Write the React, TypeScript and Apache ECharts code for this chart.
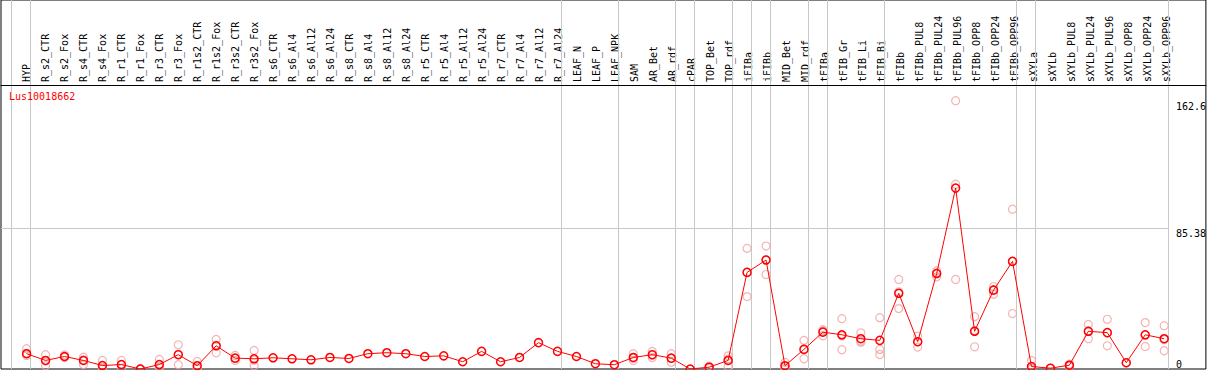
import React, { useEffect, useRef } from "react";
import * as echarts from "echarts";

const geneName = "Lus10018662";

const categories = [
  "HYP", "R_s2_CTR", "R_s2_Fox", "R_s4_CTR", "R_s4_Fox", "R_r1_CTR", "R_r1_Fox", "R_r3_CTR", "R_r3_Fox",
  "R_r1s2_CTR", "R_r1s2_Fox", "R_r3s2_CTR", "R_r3s2_Fox",
  "R_s6_CTR", "R_s6_Al4", "R_s6_Al12", "R_s6_Al24",
  "R_s8_CTR", "R_s8_Al4", "R_s8_Al12", "R_s8_Al24",
  "R_r5_CTR", "R_r5_Al4", "R_r5_Al12", "R_r5_Al24",
  "R_r7_CTR", "R_r7_Al4", "R_r7_Al12", "R_r7_Al24",
  "LEAF_N", "LEAF_P", "LEAF_NPK", "SAM", "AR_Bet", "AR_rdf", "cPAR", "TOP_Bet", "TOP_rdf",
  "iFIBa", "iFIBb", "MID_Bet", "MID_rdf", "tFIBa", "tFIB_Gr", "tFIB_Li", "tFIB_Bi",
  "tFIBb", "tFIBb_PUL8", "tFIBb_PUL24", "tFIBb_PUL96", "tFIBb_OPP8", "tFIBb_OPP24", "tFIBb_OPP96",
  "sXYLa", "sXYLb", "sXYLb_PUL8", "sXYLb_PUL24", "sXYLb_PUL96", "sXYLb_OPP8", "sXYLb_OPP24", "sXYLb_OPP96",
];

const means = [
  9.3, 5.2, 7.6, 5.2, 2.1, 2.7, 0.0, 2.7, 8.7,
  2.0, 14.1, 6.6, 6.2,
  6.8, 6.2, 5.6, 7.0,
  6.4, 9.3, 9.9, 9.3,
  7.6, 8.0, 4.4, 10.7,
  4.4, 7.0, 16.0, 10.7,
  7.6, 3.2, 2.6, 7.0, 8.7, 6.6, 0.0, 1.1, 5.2,
  58.7, 66.2, 2.0, 11.9, 22.4, 20.8, 18.4, 17.4,
  46.0, 16.6, 58.0, 109.9, 22.9, 47.9, 65.4,
  1.5, 0.5, 2.3, 22.9, 22.1, 3.8, 20.8, 18.4,
];

const replicates: number[][] = [
  [12.3, 8.2, 9.5], [8.7, 2.0, 5.0], [8.5, 7.0, 7.4], [7.2, 2.7, 5.6], [5.2, 1.1, 0.2],
  [5.2, 0.3, 2.6], [0.2, 0.0], [5.8, 0.8, 1.5], [14.7, 2.6, 8.8],
  [4.6, 0.3, 1.1], [18.0, 9.9, 14.4], [8.2, 5.2, 6.4], [11.3, 2.0, 5.3],
  [], [], [], [],
  [], [], [], [],
  [], [], [], [],
  [], [], [], [],
  [], [], [], [9.3, 5.2, 6.5], [10.7, 7.0, 8.4], [9.3, 4.1, 6.4], [], [1.7, 0.3, 1.3], [8.0, 1.5, 6.1],
  [73.3, 44.0, 58.8], [74.7, 57.4, 66.5], [4.0, 0.5, 1.5], [17.4, 6.2, 12.1],
  [23.9, 20.2, 23.1], [30.6, 11.7, 20.1], [22.0, 16.3, 17.0], [31.2, 11.9, 8.8],
  [54.4, 36.7, 46.9], [20.0, 13.3, 16.5], [59.6, 56.0, 58.4], [163.0, 54.4, 112.3],
  [31.8, 13.5, 23.4], [50.1, 45.4, 48.2], [97.1, 33.7, 65.4],
  [5.2, 0.2, 0.0], [0.5], [3.0, 1.5, 2.4], [27.1, 18.4, 23.2], [30.2, 14.1, 22.0],
  [3.8], [28.2, 13.7, 20.5], [26.3, 11.1, 17.8],
];

// index of the last category of each group (-1 = before the first)
const groupEnds = [-1, 0, 28, 31, 34, 35, 37, 38, 39, 41, 42, 45, 52, 53, 60];
const yTickLabels = [0, 85.38, 162.6];
const gridValue = 85.38;

export default function App() {
  const ref = useRef<HTMLDivElement>(null);

  useEffect(() => {
    document.body.style.margin = "0";
    const chart = echarts.init(ref.current!, null, { renderer: "svg" });
    const X_MIN = -1.35;
    const X_MAX = 62.2;
    const Y_MAX = 224.2;
    const PLOT_H = 369;
    const STEP = 19; // px per category
    const FIRST_X = 26.7; // px of first category
    const sep = 0.21;
    const mono = "'DejaVu Sans Mono', monospace";

    const repData: number[][] = [];
    replicates.forEach((arr, i) => arr.forEach((v) => repData.push([i, v])));

    const yAxisBase = (vals: number[], va: string) => ({
      type: "value",
      gridIndex: 0,
      min: 0,
      max: Y_MAX,
      position: "right",
      axisLine: { show: false, onZero: false },
      axisTick: { show: false },
      splitLine: { show: false },
      axisLabel: {
        customValues: vals,
        inside: true,
        margin: 30,
        align: "left",
        verticalAlign: va,
        fontSize: 10,
        fontFamily: mono,
        color: "#000",
      },
    });

    const labelLeft = FIRST_X - STEP / 2;
    const labelWidth = STEP * categories.length;

    const option: any = {
      animation: false,
      title: {
        text: geneName,
        left: 9,
        top: 91,
        padding: 0,
        textStyle: { color: "#ff0000", fontSize: 10, fontWeight: "normal", fontFamily: mono },
      },
      grid: [
        { left: 1, right: 1, top: 0, bottom: 1, show: true, borderColor: "#000", borderWidth: 1, backgroundColor: "#fff" },
        { left: labelLeft, width: labelWidth, top: 0, height: 85, show: false },
      ],
      xAxis: [
        {
          type: "value",
          gridIndex: 0,
          min: X_MIN,
          max: X_MAX,
          position: "top",
          offset: -85,
          z: 3,
          axisLine: { show: true, onZero: false, lineStyle: { color: "#000", width: 1 } },
          axisTick: { show: false },
          splitLine: { show: false },
          axisLabel: { show: false },
        },
        {
          // group separators drawn as long ticks
          type: "value",
          gridIndex: 0,
          min: X_MIN,
          max: X_MAX,
          position: "bottom",
          z: 1,
          axisLine: { show: false, onZero: false },
          axisLabel: { show: false },
          splitLine: { show: false },
          axisTick: {
            show: true,
            inside: true,
            length: PLOT_H,
            customValues: groupEnds.map((b) => b + sep),
            lineStyle: { color: "#c8c8c8", width: 1 },
          },
        },
        {
          // category labels
          type: "category",
          gridIndex: 1,
          data: categories,
          position: "bottom",
          boundaryGap: true,
          axisLine: { show: false, onZero: false },
          axisTick: { show: false },
          splitLine: { show: false },
          axisLabel: {
            interval: 0,
            rotate: 90,
            inside: true,
            margin: 3,
            fontSize: 10,
            fontFamily: mono,
            color: "#000",
          },
        },
      ],
      yAxis: [
        yAxisBase(yTickLabels.filter((v) => v > 0), "top"),
        yAxisBase(yTickLabels.filter((v) => v === 0), "bottom"),
        { type: "value", gridIndex: 1, show: false, min: 0, max: 1 },
      ],
      series: [
        {
          type: "scatter",
          xAxisIndex: 0,
          yAxisIndex: 0,
          data: repData,
          symbol: "circle",
          symbolSize: 8,
          itemStyle: { color: "rgba(0,0,0,0)", borderColor: "#f0a0a0", borderWidth: 1.2 },
          z: 2,
          silent: true,
          markLine: {
            silent: true,
            z: 1,
            symbol: ["none", "none"],
            label: { show: false },
            lineStyle: { color: "#c8c8c8", type: "solid", width: 1 },
            emphasis: { disabled: true },
            data: [[{ coord: [X_MIN, gridValue] }, { coord: [60 + sep, gridValue] }]],
          },
        },
        {
          type: "line",
          xAxisIndex: 0,
          yAxisIndex: 0,
          data: means.map((v, i) => [i, v]),
          symbol: "circle",
          symbolSize: 8,
          lineStyle: { color: "#ff0000", width: 1 },
          itemStyle: { color: "rgba(0,0,0,0)", borderColor: "#ff0000", borderWidth: 1.5 },
          z: 3,
          silent: true,
        },
      ],
    };
    chart.setOption(option);
    return () => chart.dispose();
  }, []);

  return <div ref={ref} style={{ width: 1209, height: 370 }} />;
}
